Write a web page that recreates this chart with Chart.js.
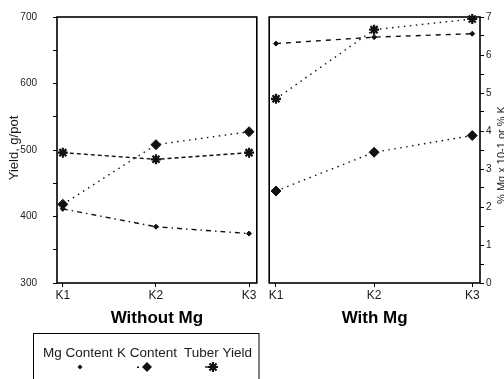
<!DOCTYPE html>
<html><head><meta charset="utf-8">
<script src="https://cdn.jsdelivr.net/npm/chart.js@4"></script>
<style>
html,body{margin:0;padding:0;background:#fff;overflow:hidden;}
#wrap{position:relative;width:504px;height:379px;}
canvas{position:absolute;top:0;}
#c1{left:0;width:264px;height:379px;}
#c2{left:262px;width:242px;height:379px;}
</style></head><body>
<div id="wrap">
<canvas id="c1" width="264" height="379"></canvas>
<canvas id="c2" width="242" height="379"></canvas>
</div>
<script>
// ---- data ----
const categories = ['K1', 'K2', 'K3'];
const panelTitles = ['Without Mg', 'With Mg'];
const seriesNames = ['Mg Content', 'K Content', 'Tuber Yield'];
const yieldWithoutMg = [496, 486, 496];   // g/pot (left axis)
const yieldWithMg = [577, 681, 697];
const mgContentWithoutMg = [1.95, 1.48, 1.30]; // % Mg x 10-1 (right axis)
const mgContentWithMg = [6.30, 6.47, 6.56];
const kContentWithoutMg = [2.07, 3.64, 3.98];  // % K (right axis)
const kContentWithMg = [2.42, 3.44, 3.88];
const yieldTicks = [300, 400, 500, 600, 700];
const contentTicks = [0, 1, 2, 3, 4, 5, 6, 7];
const leftAxisTitle = 'Yield, g/pot';
const rightAxisTitle = '% Mg x 10-1 or % K';

const INK = '#111';
const FONT = '"Liberation Sans", Arial, sans-serif';
const pts = a => a.map((v, i) => ({x: i, y: v}));

function ds(label, data, axis, dash, style, radius, bw) {
  return {
    label, data: pts(data), yAxisID: axis,
    borderColor: INK, backgroundColor: INK, borderWidth: 1.4, borderDash: dash,
    borderCapStyle: 'butt',
    pointStyle: style, pointRadius: radius, pointHoverRadius: radius,
    pointBorderWidth: bw, pointBackgroundColor: INK, pointBorderColor: INK,
    fill: false, tension: 0, clip: false
  };
}

const framePlugin = {
  id: 'frame',
  beforeDatasetsDraw(chart) {
    const {ctx, chartArea: a} = chart;
    ctx.save();
    ctx.strokeStyle = '#000';
    ctx.lineWidth = 1.6;
    ctx.strokeRect(a.left, a.top, a.right - a.left, a.bottom - a.top);
    ctx.restore();
  }
};

function xScale(min, max) {
  return {
    type: 'linear', min, max,
    afterBuildTicks: s => { s.ticks = categories.map((_, i) => ({value: i})); },
    afterFit: s => { s.height = 96; },
    grid: {display: true, drawOnChartArea: false, drawTicks: true, tickLength: 4, color: '#000', lineWidth: 1},
    border: {display: false},
    ticks: {autoSkip: false, maxRotation: 0, padding: 1, color: '#1a1a1a',
      font: {family: FONT, size: 12}, callback: v => categories[Math.round(v)]}
  };
}

function panelTitlePlugin(title) {
  return {
    id: 'panelTitle',
    afterDraw(chart) {
      const {ctx, chartArea: a} = chart;
      ctx.save();
      ctx.fillStyle = '#000';
      ctx.font = 'bold 17px ' + FONT;
      ctx.textAlign = 'center';
      ctx.textBaseline = 'middle';
      ctx.fillText(title, (a.left + a.right) / 2, 318);
      ctx.restore();
    }
  };
}

function drawDiamond(ctx, x, y, r) {
  ctx.beginPath();
  ctx.moveTo(x, y - r); ctx.lineTo(x + r, y); ctx.lineTo(x, y + r); ctx.lineTo(x - r, y);
  ctx.closePath(); ctx.fill();
}
function drawStar(ctx, x, y, r) {
  ctx.beginPath();
  for (let k = 0; k < 4; k++) {
    const ang = k * Math.PI / 4;
    ctx.moveTo(x - r * Math.cos(ang), y - r * Math.sin(ang));
    ctx.lineTo(x + r * Math.cos(ang), y + r * Math.sin(ang));
  }
  ctx.stroke();
}

const leftDecor = {
  id: 'leftDecor',
  afterDraw(chart) {
    const ctx = chart.ctx;
    ctx.save();
    // left axis title
    ctx.fillStyle = '#1a1a1a';
    ctx.font = '13px ' + FONT;
    ctx.textAlign = 'center';
    ctx.textBaseline = 'middle';
    ctx.translate(14, 148);
    ctx.rotate(-Math.PI / 2);
    ctx.fillText(leftAxisTitle, 0, 0);
    ctx.restore();

    // legend box
    ctx.save();
    ctx.strokeStyle = '#000';
    ctx.lineWidth = 1;
    ctx.strokeRect(33.5, 333.5, 225.5, 60);
    ctx.fillStyle = '#1a1a1a';
    ctx.font = '13.5px ' + FONT;
    ctx.textBaseline = 'middle';
    ctx.textAlign = 'left';
    const tx = [43, 117, 184];
    seriesNames.forEach((n, i) => ctx.fillText(n, tx[i], 353));
    ctx.fillStyle = INK; ctx.strokeStyle = INK;
    drawDiamond(ctx, 80, 367, 2.5);
    ctx.fillRect(137, 366.5, 2, 1.5);
    drawDiamond(ctx, 147, 367, 5);
    ctx.lineWidth = 1.4;
    ctx.beginPath(); ctx.moveTo(205, 367); ctx.lineTo(208, 367); ctx.stroke();
    ctx.lineWidth = 2.2;
    drawStar(ctx, 213, 367, 5);
    ctx.restore();
  }
};

const rightDecor = {
  id: 'rightDecor',
  afterDraw(chart) {
    const ctx = chart.ctx;
    ctx.save();
    ctx.fillStyle = '#1a1a1a';
    ctx.font = '11px ' + FONT;
    ctx.textAlign = 'center';
    ctx.textBaseline = 'middle';
    ctx.translate(502 - 262, 155);
    ctx.rotate(-Math.PI / 2);
    ctx.fillText(rightAxisTitle, 0, 0);
    ctx.restore();
  }
};

const common = {
  responsive: false, animation: false,
  plugins: {legend: {display: false}, tooltip: {enabled: false}},
  elements: {line: {borderJoinStyle: 'miter'}}
};

new Chart(document.getElementById('c1'), {
  type: 'line',
  data: {datasets: [
    ds(seriesNames[0], mgContentWithoutMg, 'y2', [5, 4, 1.5, 4], 'rectRot', 2.5, 1),
    ds(seriesNames[1], kContentWithoutMg, 'y2', [1.5, 4.5], 'rectRot', 5, 1),
    ds(seriesNames[2], yieldWithoutMg, 'y', [4, 3], 'star', 5, 2.2)
  ]},
  options: Object.assign({}, common, {
    layout: {padding: {top: 17, left: 0, right: 1, bottom: 0}},
    scales: {
      x: xScale(-0.0625, 2.083),
      y: {
        position: 'left', min: 300, max: 700,
        afterBuildTicks: s => {
          const t = [];
          for (let v = yieldTicks[0]; v <= yieldTicks[yieldTicks.length - 1]; v += 50) t.push({value: v});
          s.ticks = t;
        },
        afterFit: s => { s.width = 57; s.paddingTop = 0; s.paddingBottom = 0; },
        grid: {display: true, drawOnChartArea: false, drawTicks: true, tickLength: 4, color: '#000', lineWidth: 1},
        border: {display: false},
        ticks: {padding: 16, color: '#222', font: {family: FONT, size: 10},
          callback: v => yieldTicks.includes(v) ? String(v) : ''}
      },
      y2: {display: false, min: contentTicks[0], max: contentTicks[contentTicks.length - 1]}
    }
  }),
  plugins: [framePlugin, panelTitlePlugin(panelTitles[0]), leftDecor]
});

new Chart(document.getElementById('c2'), {
  type: 'line',
  data: {datasets: [
    ds(seriesNames[0], mgContentWithMg, 'y2', [5, 5], 'rectRot', 2.5, 1),
    ds(seriesNames[1], kContentWithMg, 'y2', [1.5, 4.5], 'rectRot', 5, 1),
    ds(seriesNames[2], yieldWithMg, 'y', [1.5, 4.5], 'star', 5, 2.2)
  ]},
  options: Object.assign({}, common, {
    layout: {padding: {top: 17, left: 1, right: 0, bottom: 0}},
    scales: {
      x: xScale(-0.069, 2.079),
      y: {display: false, position: 'left', min: yieldTicks[0], max: yieldTicks[yieldTicks.length - 1]},
      y2: {
        position: 'right', min: contentTicks[0], max: contentTicks[contentTicks.length - 1],
        afterBuildTicks: s => {
          const t = [];
          for (let v = 0; v <= 7; v += 0.5) t.push({value: v});
          s.ticks = t;
        },
        afterFit: s => { s.width = 24; s.paddingTop = 0; s.paddingBottom = 0; },
        grid: {display: true, drawOnChartArea: false, drawTicks: true, tickLength: 4, color: '#000', lineWidth: 1},
        border: {display: false},
        ticks: {padding: 2, color: '#222', font: {family: FONT, size: 10},
          callback: v => contentTicks.includes(v) ? String(v) : ''}
      }
    }
  }),
  plugins: [framePlugin, panelTitlePlugin(panelTitles[1]), rightDecor]
});
</script>
</body></html>
